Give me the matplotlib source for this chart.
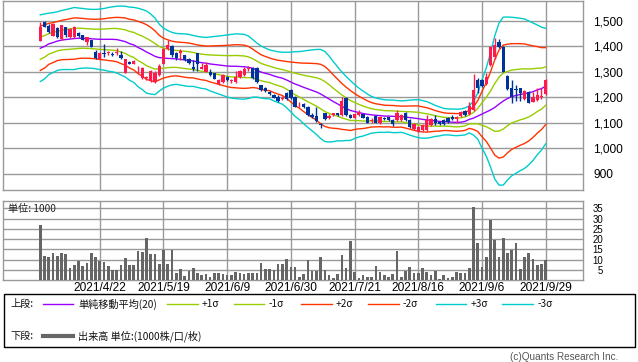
import matplotlib
matplotlib.use("Agg")
import matplotlib.pyplot as plt
from matplotlib.lines import Line2D
from matplotlib.patches import Rectangle
import numpy as np

# ---------------- data ----------------
date_labels = ["2021/4/22", "2021/5/19", "2021/6/9", "2021/6/30",
               "2021/7/21", "2021/8/16", "2021/9/6", "2021/9/29"]
date_idx = [14, 29, 44, 59, 74, 89, 104, 119]

opens = [1422,1496,1480,1442,1471,1428,1475,1438,1437,1451,
         1444,1419,1425,1379,1352,1376,1373,1372,1376,1366,
         1297,1340,1332,1302,1274,1275,1265,1261,1288,1331,
         1389,1402,1373,1373,1366,1349,1320,1373,1312,1301,
         1299,1294,1252,1260,1281,1263,1260,1280,1286,1310,
         1314,1316,1248,1235,1222,1209,1202,1193,1218,1229,
         1202,1168,1172,1163,1130,1126,1093,1137,1117,1129,
         1137,1129,1196,1130,1120,1130,1133,1124,1108,1128,
         1097,1119,1121,1111,1109,1111,1140,1111,1076,1065,
         1070,1071,1091,1114,1104,1109,1120,1124,1114,1126,
         1145,1133,1150,1268,1268,1252,1327,1360,1419,1399,
         1284,1235,1233,1235,1192,1222,1183,1189,1200,1213]
highs = [1497,1500,1490,1491,1477,1486,1478,1472,1480,1455,
         1446,1438,1427,1384,1378,1410,1382,1378,1392,1382,
         1352,1343,1345,1323,1318,1285,1308,1303,1330,1392,
         1425,1406,1378,1390,1368,1353,1347,1375,1333,1340,
         1310,1297,1270,1290,1284,1272,1304,1309,1320,1322,
         1318,1320,1250,1240,1225,1212,1208,1205,1220,1232,
         1205,1182,1176,1166,1140,1163,1100,1140,1135,1140,
         1140,1202,1202,1133,1136,1150,1136,1127,1117,1131,
         1127,1124,1124,1114,1150,1134,1143,1114,1098,1088,
         1094,1130,1117,1130,1107,1114,1124,1130,1128,1147,
         1148,1180,1291,1275,1272,1295,1402,1432,1430,1403,
         1287,1268,1250,1238,1229,1225,1222,1235,1235,1270]
lows = [1420,1476,1452,1440,1435,1425,1437,1435,1434,1438,
        1424,1405,1397,1351,1350,1360,1368,1362,1368,1352,
        1295,1329,1330,1294,1272,1268,1262,1258,1285,1329,
        1386,1360,1347,1347,1343,1330,1305,1305,1310,1298,
        1283,1270,1250,1257,1263,1256,1257,1277,1283,1305,
        1272,1258,1226,1222,1209,1196,1183,1188,1190,1193,
        1160,1163,1157,1128,1120,1104,1080,1112,1115,1126,
        1126,1126,1126,1117,1117,1128,1117,1097,1100,1097,
        1094,1110,1108,1088,1106,1108,1106,1081,1072,1062,
        1067,1068,1088,1091,1091,1092,1100,1112,1097,1124,
        1128,1130,1147,1217,1240,1249,1324,1350,1395,1298,
        1228,1177,1185,1185,1190,1177,1180,1186,1195,1210]
closes = [1478,1478,1455,1487,1438,1484,1445,1467,1475,1441,
          1425,1436,1399,1353,1375,1372,1377,1368,1380,1355,
          1349,1331,1342,1305,1314,1278,1304,1297,1324,1389,
          1406,1366,1353,1382,1345,1333,1311,1331,1320,1327,
          1288,1272,1268,1286,1266,1266,1278,1305,1311,1317,
          1274,1261,1229,1225,1212,1198,1186,1196,1194,1196,
          1163,1171,1161,1130,1122,1108,1090,1115,1126,1137,
          1129,1187,1130,1120,1133,1143,1120,1100,1111,1100,
          1124,1116,1111,1096,1140,1130,1109,1084,1095,1084,
          1091,1111,1114,1097,1094,1095,1104,1114,1124,1143,
          1130,1165,1229,1235,1245,1281,1399,1406,1399,1301,
          1231,1202,1230,1216,1226,1179,1202,1209,1206,1268]

ma20 = [1393,1400,1410,1415,1421,1425,1427,1429,1431,1432,
        1432,1431,1430,1429,1428,1428,1428,1428,1427,1423,
        1419,1411,1406,1396,1388,1378,1370,1361,1356,1354,
        1353,1352,1351,1349,1347,1345,1343,1339,1336,1334,
        1331,1329,1327,1325,1323,1322,1322,1321,1320,1318,
        1314,1307,1299,1294,1290,1284,1279,1275,1268,1260,
        1252,1246,1239,1233,1227,1221,1213,1203,1193,1183,
        1174,1164,1156,1148,1144,1140,1136,1133,1131,1129,
        1128,1126,1126,1125,1124,1124,1122,1120,1118,1116,
        1113,1111,1109,1107,1105,1104,1103,1102,1101,1102,
        1105,1113,1118,1126,1134,1142,1150,1160,1173,1185,
        1195,1203,1207,1211,1214,1217,1222,1229,1234,1244]
sigma = [43.7,42.6,40.3,39.3,38.4,38.7,39.3,40.0,40.7,39.7,
         39.1,38.7,38.6,38.9,39.7,40.4,41.7,42.6,43.7,45.2,
         46.4,47.9,49.2,51.4,52.5,53.8,52.5,50.2,43.9,39.3,
         36.5,34.4,33.4,33.6,34.1,34.1,33.4,33.4,33.7,33.8,
         35.4,36.7,38.0,39.3,40.7,41.8,42.4,42.6,42.5,41.0,
         37.8,35.4,34.1,33.2,32.1,32.8,33.2,34.1,36.3,39.3,
         42.4,44.6,47.6,50.5,53.1,55.7,58.4,59.0,56.4,52.5,
         48.5,45.2,42.0,39.3,35.4,32.1,29.5,26.6,24.0,22.7,
         21.9,21.4,21.0,21.4,21.0,20.6,21.6,22.9,24.0,24.9,
         24.7,24.0,22.3,20.3,19.0,17.4,17.0,17.3,17.4,17.3,
         17.7,17.7,22.3,30.2,44.6,57.7,74.7,93.8,106.2,110.1,
         106.9,103.9,102.0,99.9,98.0,94.4,90.1,85.2,80.6,75.7]

volume = [26.9,11.8,11.3,13.3,11.8,13.3,12.8,6.0,7.4,9.4,
          7.0,8.4,13.3,11.3,9.4,8.9,7.0,4.9,4.9,7.4,
          10.8,7.4,7.4,14.2,13.8,20.5,12.8,12.8,7.9,14.7,
          7.9,14.7,3.6,5.5,2.1,4.5,6.0,3.6,2.6,2.9,
          1.6,3.6,3.6,3.1,2.6,2.6,3.9,3.6,3.1,3.6,
          3.6,3.6,8.4,5.5,5.5,4.9,7.9,7.9,10.4,6.5,
          6.5,1.6,3.1,9.9,4.5,4.5,11.3,5.0,2.6,1.1,
          3.1,12.3,6.0,19.1,4.0,1.1,2.6,1.6,1.6,7.0,
          4.0,2.6,1.6,3.1,14.2,1.6,4.5,6.5,3.6,3.6,
          6.0,4.0,2.6,4.5,0.6,2.6,1.1,1.6,4.0,3.6,
          3.6,6.0,35.4,18.1,6.5,11.3,29.3,19.6,11.3,20.5,
          13.3,14.7,18.1,5.5,11.3,13.3,10.4,7.4,7.9,9.9]

price_ticks = [900, 1000, 1100, 1200, 1300, 1400, 1500]
vol_ticks = [5, 10, 15, 20, 25, 30, 35]

# ---------------- style ----------------
W, H = 638, 362
UP = "#ff1a4d"
DOWN = "#003399"
GRID = "#999999"
band_styles = [(0, "#9900ff"), (1, "#99cc00"), (-1, "#99cc00"),
               (2, "#ff3300"), (-2, "#ff3300"), (3, "#00cccc"), (-3, "#00cccc")]
NUMFONT = "Liberation Sans"
JP = ["Noto Sans CJK JP", "DejaVu Sans"]

fig = plt.figure(figsize=(W / 100, H / 100), dpi=100)
fig.patch.set_facecolor("white")

def fx(x):
    return x / W

def fy(y):
    return 1 - y / H

n = len(closes)
idx = np.arange(n)
xlim = (-8.78, 127.78)

# ---------------- price panel ----------------
ax = fig.add_axes([fx(3), fy(190), fx(580), 189 / H])
ax.set_xlim(*xlim)
ax.set_ylim(835.2, 1578.7)
for v in date_idx:
    ax.axvline(v, color=GRID, lw=1.0, zorder=0)
for p in price_ticks:
    ax.axhline(p, color=GRID, lw=1.0, zorder=0)

ma = np.array(ma20, float)
sg = np.array(sigma, float)
for k, col in band_styles:
    ax.plot(idx, ma + k * sg, color=col, lw=1.0, zorder=2)

o = np.array(opens, float); c = np.array(closes, float)
hi = np.array(highs, float); lo = np.array(lows, float)
cols = [UP if cc >= oo else DOWN for oo, cc in zip(o, c)]
ax.vlines(idx, lo, hi, colors=cols, lw=1.0, zorder=3)
bottom = np.minimum(o, c)
height = np.maximum(np.abs(c - o), 2.5)
ax.bar(idx, height, bottom=bottom, width=0.78, color=cols, linewidth=0, zorder=4)

ax.yaxis.tick_right()
ax.set_yticks(price_ticks)
ax.set_yticklabels([f"{p:,}" for p in price_ticks], fontfamily=NUMFONT, fontsize=8.6)
ax.tick_params(axis="y", length=0, pad=7.5)
ax.set_xticks([])
for s in ax.spines.values():
    s.set_color(GRID)
    s.set_linewidth(1.0)

# ---------------- volume panel ----------------
vx = fig.add_axes([fx(3), fy(280.3), fx(580), 79.3 / H])
vx.set_xlim(*xlim)
vx.set_ylim(0, 38.5)
for v in date_idx:
    vx.axvline(v, color=GRID, lw=1.0, zorder=0)
for t in vol_ticks:
    vx.axhline(t, color=GRID, lw=1.0, zorder=0)
vx.bar(idx, volume, width=0.62, color="#666666", linewidth=0, zorder=3)
vx.yaxis.tick_right()
vx.set_yticks(vol_ticks)
vx.set_yticklabels([str(t) for t in vol_ticks], fontfamily=NUMFONT, fontsize=6.9)
for lab in vx.get_yticklabels():
    lab.set_horizontalalignment("right")
vx.tick_params(axis="y", length=0, pad=14.5)
vx.set_xticks(date_idx)
vx.set_xticklabels(date_labels, fontfamily=NUMFONT, fontsize=8.6)
vx.tick_params(axis="x", length=0, pad=1.5)
for s in vx.spines.values():
    s.set_color(GRID)
    s.set_linewidth(1.0)

fig.text(fx(8), fy(209), "単位: 1000", family=JP, fontsize=7.3, va="center", ha="left", color="#222222")

# ---------------- legend box ----------------
fig.patches.append(Rectangle((fx(3.5), fy(347)), fx(631), 53 / H, transform=fig.transFigure,
                             fill=False, edgecolor="black", lw=1.0))

def fig_line(x0, x1, y, col, lw):
    fig.lines.append(Line2D([fx(x0), fx(x1)], [fy(y), fy(y)], transform=fig.transFigure,
                            color=col, lw=lw))

def fig_txt(x, y, s, **kw):
    fig.text(fx(x), fy(y), s, family=JP, fontsize=7.3, va="center", ha="left", color="#111111", **kw)

ry = 304
fig_txt(10, ry, "上段:")
fig_line(43, 73, ry, "#9900ff", 1.0)
fig_txt(78, ry, "単純移動平均(20)")
legend_items = [(167, 198, "#99cc00", 202, "+1σ"), (234, 264, "#99cc00", 269, "-1σ"),
                (301, 332, "#ff3300", 336, "+2σ"), (368, 399, "#ff3300", 403, "-2σ"),
                (436, 466, "#00cccc", 471, "+3σ"), (502, 533, "#00cccc", 538, "-3σ")]
for x0, x1, col, tx, lab in legend_items:
    fig_line(x0, x1, ry, col, 1.0)
    fig_txt(tx, ry, lab)

ry2 = 336
fig_txt(10, ry2, "下段:")
fig_line(43, 73, ry2, "#666666", 3.0)
fig_txt(78, ry2, "出来高 単位:(1000株/口/枚)")

fig.text(fx(618), fy(356.5), "(c)Quants Research Inc.", family=NUMFONT, fontsize=7.2,
         ha="right", va="center", color="#555555")

fig.savefig("out.png", dpi=100, facecolor="white")
